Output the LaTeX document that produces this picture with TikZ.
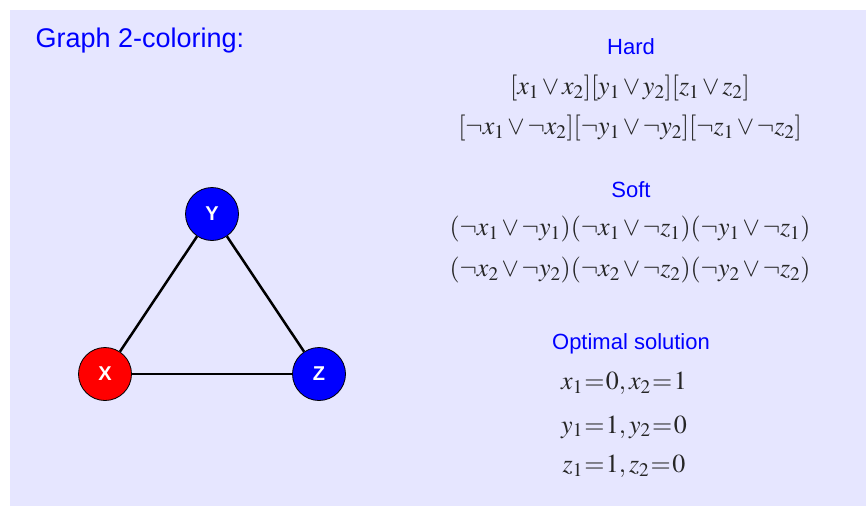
\documentclass[tikz,border=0pt]{standalone}
\usepackage{mathptmx}
\usepackage[no-math]{fontspec}
\newfontfamily\labelfont{Liberation Sans}
\usepackage{xcolor}
\usepackage{tikz}
\usetikzlibrary{positioning}
\definecolor{panel}{RGB}{230,230,255}

\begin{document}
\medmuskip=2mu
\thickmuskip=1mu
\begin{tikzpicture}[
  x=1pt, y=-1pt,
  vertex/.style={circle, draw=black, line width=0.8pt, minimum size=53pt, inner sep=0pt, text=white, font=\labelfont\bfseries\fontsize{20}{20}\selectfont},
  edge/.style={line width=2.5pt},
  head/.style={text=blue, font=\labelfont\fontsize{22}{26}\selectfont},
  formula/.style={text=black!85, font=\fontsize{26}{30}\selectfont},
  solution/.style={text=black!85, font=\fontsize{26}{30}\selectfont},
]

% Panel
\useasboundingbox (0,0) rectangle (866,506);
\fill[panel] (10,10) rectangle (866,506);
\node[text=blue, font=\labelfont\fontsize{27}{32}\selectfont, anchor=west] (title) at (32,41) {Graph 2-coloring:};

% Graph
\node[vertex, fill=blue] (y) at (212,214) {Y};
\node[vertex, fill=red] (x) at (105,374) {X};
\node[vertex, fill=blue] (z) at (319,374) {Z};
\draw[edge] (x) -- (y);
\draw[edge] (y) -- (z);
\draw[edge] (x) -- (z);

% Hard clauses
\node[head] (hard) at (631,47) {Hard};
\node[formula] (hard1) at (630,88) {$[x_1\vee x_2][y_1\vee y_2][z_1\vee z_2]$};
\node[formula] (hard2) at (630,128) {$[\neg x_1\vee\neg x_2][\neg y_1\vee\neg y_2][\neg z_1\vee\neg z_2]$};

% Soft clauses
\node[head] (soft) at (631,190) {Soft};
\node[formula] (soft1) at (630,229) {$(\neg x_1\vee\neg y_1)(\neg x_1\vee\neg z_1)(\neg y_1\vee\neg z_1)$};
\node[formula] (soft2) at (630,270) {$(\neg x_2\vee\neg y_2)(\neg x_2\vee\neg z_2)(\neg y_2\vee\neg z_2)$};

% Solution
\node[head] (opt) at (631,344) {Optimal solution};
\node[solution] (solx) at (624,383) {$x_1=0, x_2=1$};
\node[solution] (soly) at (624,427) {$y_1=1, y_2=0$};
\node[solution] (solz) at (624,466) {$z_1=1, z_2=0$};

\end{tikzpicture}
\end{document}
